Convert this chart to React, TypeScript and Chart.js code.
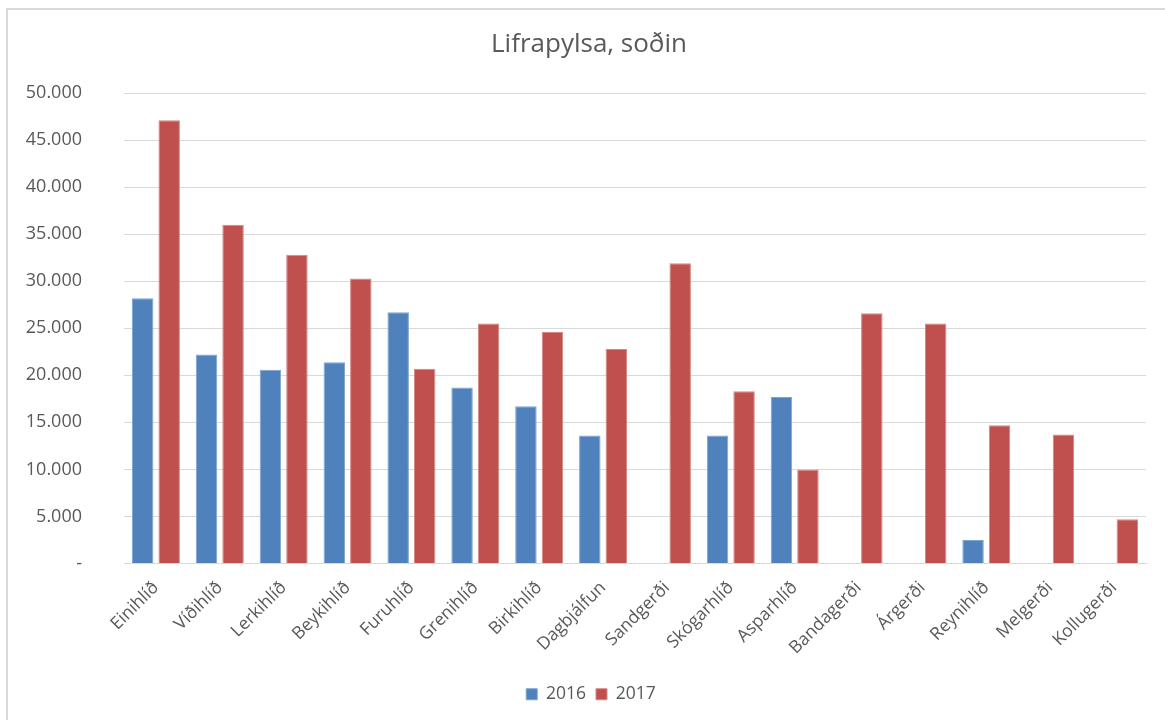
import React, { useEffect, useRef } from "react";
import { Chart, registerables } from "chart.js";

Chart.register(...registerables);

const chartTitle = "Lifrapylsa, soðin";
const categories = [
  "Einihlíð", "Víðihlíð", "Lerkihlíð", "Beykihlíð", "Furuhlíð", "Grenihlíð",
  "Birkihlíð", "Dagbjálfun", "Sandgerði", "Skógarhlíð", "Asparhlíð",
  "Bandagerði", "Árgerði", "Reynihlíð", "Melgerði", "Kollugerði",
];
const series2016 = [28200, 22200, 20600, 21400, 26700, 18700, 16700, 13600, null, 13600, 17700, null, null, 2500, null, null];
const series2017 = [47100, 36000, 32800, 30300, 20700, 25500, 24600, 22800, 31900, 18300, 10000, 26600, 25500, 14700, 13700, 4700];
const seriesLabels = ["2016", "2017"];
const yMax = 50000;
const yStep = 5000;

const FONT = "'Open Sans', sans-serif";
const TEXT = "#595959";
const GRID = "#d9d9d9";

function fmt(v: number): string {
  if (v === 0) return "-";
  return String(v).replace(/\B(?=(\d{3})+(?!\d))/g, ".");
}

export default function App() {
  const ref = useRef<HTMLCanvasElement | null>(null);

  useEffect(() => {
    document.body.style.margin = "0";
    const canvas = ref.current;
    if (!canvas) return;

    const framePlugin = {
      id: "frameAndTitle",
      afterLayout(chart: any) {
        const lg = chart.legend;
        if (lg) {
          lg.left += 18;
          lg.right += 18;
        }
      },
      beforeDraw(chart: any) {
        const ctx = chart.ctx;
        ctx.save();
        ctx.fillStyle = "#ffffff";
        ctx.fillRect(0, 0, chart.width, chart.height);
        ctx.strokeStyle = GRID;
        ctx.lineWidth = 2;
        ctx.beginPath();
        ctx.moveTo(7, chart.height + 2);
        ctx.lineTo(7, 9);
        ctx.lineTo(chart.width + 2, 9);
        ctx.stroke();
        ctx.restore();
      },
      afterDraw(chart: any) {
        const ctx = chart.ctx;
        ctx.save();
        ctx.fillStyle = TEXT;
        ctx.font = `26px ${FONT}`;
        ctx.textAlign = "center";
        ctx.textBaseline = "middle";
        ctx.fillText(chartTitle, 589, 45);
        ctx.restore();
      },
    };

    const chart = new Chart(canvas, {
      type: "bar",
      data: {
        labels: categories,
        datasets: [
          {
            label: seriesLabels[0],
            data: series2016,
            backgroundColor: "#4F81BD",
            borderColor: "#7fa3d0",
            borderWidth: 1,
            categoryPercentage: 0.83,
            barPercentage: 0.81,
          },
          {
            label: seriesLabels[1],
            data: series2017,
            backgroundColor: "#C0504D",
            borderColor: "#d48683",
            borderWidth: 1,
            categoryPercentage: 0.83,
            barPercentage: 0.81,
          },
        ],
      },
      options: {
        animation: false,
        responsive: false,
        maintainAspectRatio: false,
        layout: { padding: { left: 0, right: 19, top: 93, bottom: 7 } },
        plugins: {
          title: { display: false },
          tooltip: { enabled: false },
          legend: {
            position: "bottom",
            labels: {
              font: { family: FONT, size: 17.5 },
              color: TEXT,
              boxWidth: 11,
              boxHeight: 11,
              padding: 10,
            },
          },
        },
        scales: {
          x: {
            grid: { display: false },
            border: { display: true, color: GRID, width: 1 },
            ticks: {
              font: { family: FONT, size: 17.5 },
              color: TEXT,
              minRotation: 45,
              maxRotation: 45,
              autoSkip: false,
              padding: 6,
            },
            afterFit(scale: any) {
              scale.height = 112;
            },
          },
          y: {
            min: 0,
            max: yMax,
            grid: { color: GRID, drawTicks: false },
            border: { display: false },
            ticks: {
              stepSize: yStep,
              font: { family: FONT, size: 18 },
              color: TEXT,
              padding: 42,
              callback: (v: any) => fmt(Number(v)),
            },
            afterFit(scale: any) {
              scale.width = 124;
            },
          },
        },
      },
      plugins: [framePlugin],
    } as any);

    return () => chart.destroy();
  }, []);

  return (
    <div style={{ width: 1165, height: 720 }}>
      <canvas ref={ref} width={1165} height={720} style={{ display: "block" }} />
    </div>
  );
}
